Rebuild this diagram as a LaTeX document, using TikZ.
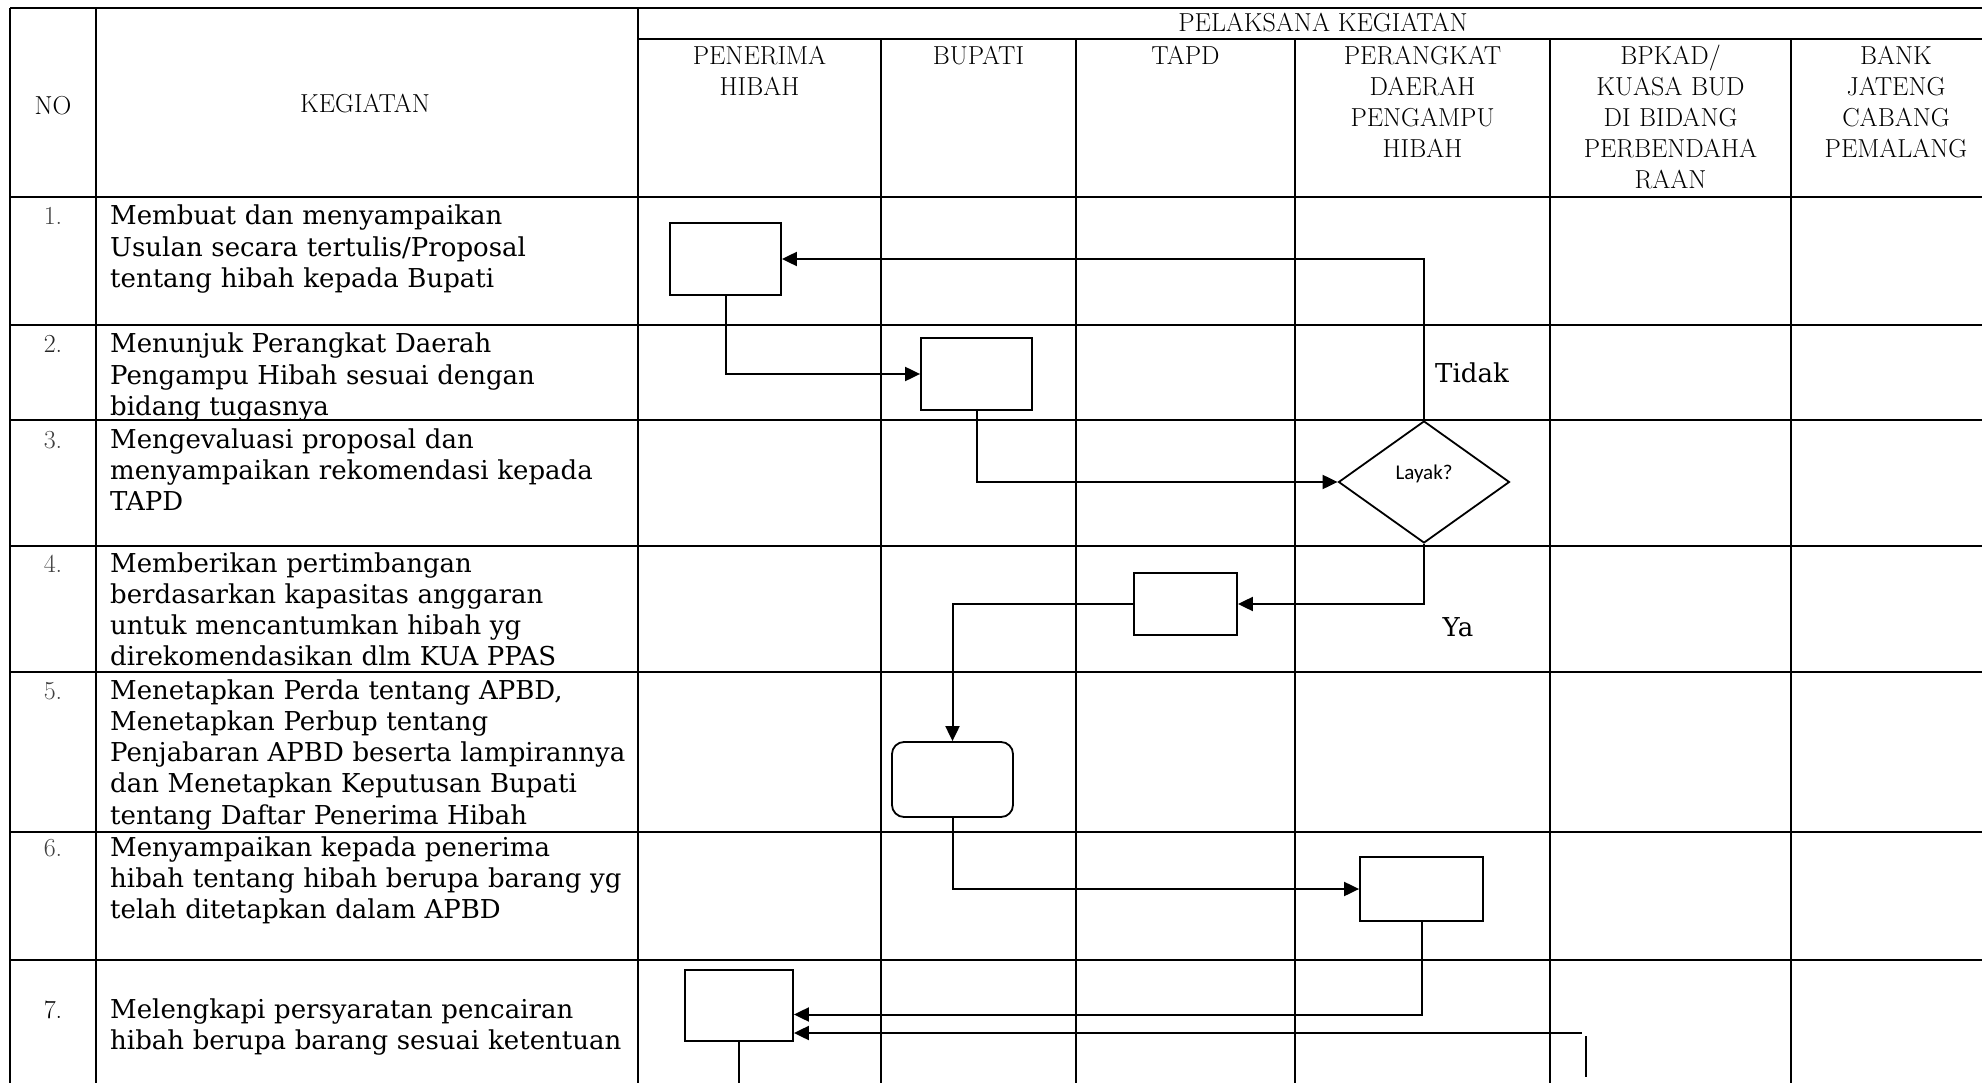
\documentclass[tikz,border=0pt]{standalone}
\usepackage{fontspec}
\usetikzlibrary{shapes.geometric,arrows.meta}
\newfontfamily\isifont{DejaVu Serif}
\newfontfamily\calfont{Carlito}

\begin{document}
\begin{tikzpicture}[x=1pt, y=-1pt, >={Triangle[length=15pt,width=14pt]},
    garis/.style={line width=1.4pt},
    proses/.style={draw, line width=1.8pt, minimum width=111pt, minimum height=72pt, inner sep=0pt},
    putusan/.style={draw, diamond, line width=1.8pt, minimum width=171pt, minimum height=122pt,
        inner sep=0pt, font=\calfont\fontsize{21}{24}\selectfont},
    alur/.style={->, line width=2pt},
    judul/.style={font=\addfontfeatures{FakeBold=1.5}\fontsize{26}{31}\selectfont, inner sep=0pt},
    isi/.style={font=\isifont\fontsize{26}{31.3}\selectfont, inner sep=0pt,
        text width=600pt, align=left, anchor=base west}]

    % Page size (pixels of the scan)
    \fill[white] (0,0) rectangle (1982,1083);
    \useasboundingbox (0,0) rectangle (1982,1083);

    % Table frame
    \def\kiri{10}
    \def\kanan{1982}
    \def\atas{8}
    \def\bawah{1083}
    \draw[garis] (\kiri,\atas) -- (\kanan,\atas);
    \draw[garis] (638,39) -- (\kanan,39);
    \foreach \y in {197,325,420,546,672,832,960}
        \draw[garis] (\kiri,\y) -- (\kanan,\y);
    \foreach \x in {10,96,638}
        \draw[garis] (\x,\atas) -- (\x,\bawah);
    \foreach \x in {881,1076,1295,1550,1791}
        \draw[garis] (\x,39) -- (\x,\bawah);

    % Header
    \node[judul] (no) at (53,106) {NO};
    \node[judul] (keg) at (365,104) {KEGIATAN};
    \node[judul, anchor=base] (pel) at (1323,32) {PELAKSANA KEGIATAN};
    \foreach \a/\b/\nama/\teks in {638/881/pen/{PENERIMA\\HIBAH}, 881/1076/bup/{BUPATI},
        1076/1295/tapd/{TAPD}, 1295/1550/pd/{PERANGKAT\\DAERAH\\PENGAMPU\\HIBAH},
        1550/1791/bpkad/{BPKAD/\\KUASA BUD\\DI BIDANG\\PERBENDAHA\\RAAN},
        1791/2001/bank/{BANK\\JATENG\\CABANG\\PEMALANG}} {
        \node[judul, anchor=base, text width={\b-\a-10}, align=center] (\nama) at ({(\a+\b)/2},65) {\teks};
    }

    % Rows: number and activity
    \foreach \n/\y/\warna/\teks in {
        1/225/black!75/{Membuat dan menyampaikan\\Usulan secara tertulis/Proposal\\tentang hibah kepada Bupati},
        2/353/black!85/{Menunjuk Perangkat Daerah\\Pengampu Hibah sesuai dengan\\bidang tugasnya},
        3/448/black!75/{Mengevaluasi proposal dan\\menyampaikan rekomendasi kepada\\TAPD},
        4/572/black!75/{Memberikan pertimbangan\\berdasarkan kapasitas anggaran\\untuk mencantumkan hibah yg\\direkomendasikan dlm KUA PPAS},
        5/699/black!75/{Menetapkan Perda tentang APBD,\\Menetapkan Perbup tentang\\Penjabaran APBD beserta lampirannya\\dan Menetapkan Keputusan Bupati\\tentang Daftar Penerima Hibah},
        6/856/black!75/{Menyampaikan kepada penerima\\hibah tentang hibah berupa barang yg\\telah ditetapkan dalam APBD},
        7/1018/black/{Melengkapi persyaratan pencairan\\hibah berupa barang sesuai ketentuan}} {
        \node[judul, anchor=base, text=\warna] (no\n) at (53,\y) {\n.};
        \node[isi] (keg\n) at (110,\y) {\teks};
    }

    % Flow shapes
    \node[proses] (usul) at (725.5,259) {};
    \node[proses] (tunjuk) at (976.5,374) {};
    \node[putusan] (layak) at (1424,482) {\raisebox{20pt}{Layak?}};
    \node[proses, minimum width=103pt, minimum height=62pt] (timbang) at (1185.5,604) {};
    \node[proses, rounded corners=12pt, minimum width=121pt, minimum height=75pt] (tetap) at (952.5,779.5) {};
    \node[proses, minimum width=123pt, minimum height=64pt] (sampai) at (1421.5,889) {};
    \node[proses, minimum width=108pt, minimum height=71pt] (lengkap) at (739,1005.5) {};

    % Branch labels
    \node[font=\isifont\fontsize{26}{30}\selectfont, inner sep=0pt] (tidak) at (1472,373) {Tidak};
    \node[font=\isifont\fontsize{26}{30}\selectfont, inner sep=0pt] (ya) at (1458,627) {Ya};

    % Flow arrows
    \draw[alur] (usul.south) |- (tunjuk.west);
    \draw[alur] (tunjuk.south) |- (layak.west);
    \draw[alur] (layak.north) |- (usul.east);
    \draw[alur] (layak.south) |- (timbang.east);
    \draw[alur] (timbang.west) -| (tetap.north);
    \draw[alur] (tetap.south) |- (sampai.west);
    \draw[alur] (sampai.south) |- ([yshift=-9pt]lengkap.east);
    \coordinate (bkd) at (1582,1033);
    \draw[alur] (bkd) -- (bkd -| lengkap.east);
    \draw[line width=2pt] (1586,1036) -- (1586,1077);
    \draw[line width=2pt] (lengkap.south) -- (lengkap.south |- 0,\bawah);

\end{tikzpicture}
\end{document}
